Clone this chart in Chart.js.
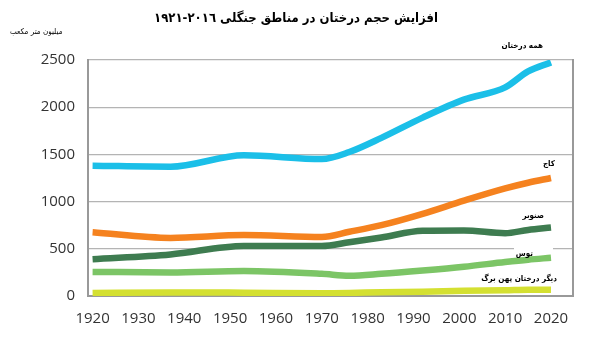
<!DOCTYPE html>
<html>
<head>
<meta charset="utf-8">
<script src="https://cdn.jsdelivr.net/npm/chart.js@4.4.0/dist/chart.umd.min.js"></script>
<style>
  html, body { margin: 0; padding: 0; background: #fff; }
  #wrap { width: 610px; height: 350px; }
</style>
</head>
<body>
<div id="wrap"><canvas id="chart" width="610" height="350"></canvas></div>
<script>
// years of the inventory points
const years = [1920, 1937, 1953, 1970, 1976, 1983, 1992, 2001, 2010, 2015, 2020];
const xTicks = [1920, 1930, 1940, 1950, 1960, 1970, 1980, 1990, 2000, 2010, 2020];
const yTicks = [0, 500, 1000, 1500, 2000, 2500];

// volumes, million m3
const allTrees = [1380, 1370, 1490, 1450, 1525, 1675, 1890, 2080, 2210, 2380, 2475];
const pine = [675, 615, 645, 625, 680, 750, 870, 1010, 1140, 1200, 1250];
const spruce = [390, 440, 530, 530, 570, 620, 690, 695, 665, 700, 725];
const birch = [255, 250, 265, 235, 215, 235, 270, 310, 360, 385, 405];
const otherBroadleaf = [32, 38, 35, 30, 33, 40, 45, 55, 60, 65, 65];

const seriesNames = ["همه درختان", "کاج", "صنوبر", "توس", "دیگر درختان پهن برگ"];
const chartTitle = "افزایش حجم درختان در مناطق جنگلی ٢٠١٦-١٩٢١";
const unitLabel = "میلیون متر مکعب";

const toPoints = (vals) => vals.map((v, i) => ({ x: years[i], y: v }));

const persianFont = "'DejaVu Sans Condensed', 'DejaVu Sans', sans-serif";
const frameColor = "#999999";

// right side of the frame, title and the series names
const labelsPlugin = {
  id: "seriesText",
  afterDraw(chart) {
    const { ctx } = chart;
    const a = chart.chartArea;
    ctx.save();
    ctx.fillStyle = frameColor;
    const top = Math.round(a.top) - 1;
    const h = Math.round(a.bottom) - top + 1;
    ctx.fillRect(Math.round(a.right) - 1, top, 2, h);

    ctx.fillStyle = "#000";
    ctx.textBaseline = "middle";

    ctx.font = "bold 13px " + persianFont;
    ctx.textAlign = "center";
    ctx.fillText(chartTitle, 296, 19);

    ctx.font = "8px " + persianFont;
    ctx.textAlign = "left";
    ctx.fillText(unitLabel, 10, 32);

    ctx.font = "bold 8px " + persianFont;
    ctx.textAlign = "right";
    // white box behind the birch label
    ctx.fillStyle = "#fff";
    ctx.fillRect(514, 247, 39, 6);
    ctx.fillStyle = "#000";
    ctx.fillText(seriesNames[0], 543, 46);
    ctx.fillText(seriesNames[1], 555, 164);
    ctx.fillText(seriesNames[2], 544, 216);
    ctx.fillText(seriesNames[3], 533, 254);
    ctx.fillText(seriesNames[4], 557, 279);
    ctx.restore();
  },
};

const mkSet = (label, vals, color) => ({
  label: label,
  data: toPoints(vals),
  borderColor: color,
  backgroundColor: color,
  borderWidth: 6.5,
  pointRadius: 0,
  tension: 0.3,
  cubicInterpolationMode: "monotone",
  fill: false,
});

new Chart(document.getElementById("chart"), {
  type: "line",
  data: {
    datasets: [
      mkSet(seriesNames[4], otherBroadleaf, "#d4e031"),
      mkSet(seriesNames[3], birch, "#7cc566"),
      mkSet(seriesNames[2], spruce, "#3e7c50"),
      mkSet(seriesNames[1], pine, "#f5821f"),
      mkSet(seriesNames[0], allTrees, "#1bbfe8"),
    ],
  },
  options: {
    responsive: false,
    animation: false,
    layout: { padding: { left: 0, right: 37, top: 60, bottom: 0 } },
    plugins: {
      legend: { display: false },
      tooltip: { enabled: false },
    },
    scales: {
      x: {
        type: "linear",
        min: 1919,
        max: 2024.8,
        afterFit: (s) => { s.height = 54; },
        afterBuildTicks: (s) => { s.ticks = xTicks.map((v) => ({ value: v })); },
        grid: { display: false, drawTicks: false },
        border: { display: true, color: frameColor, width: 2 },
        ticks: {
          padding: 14,
          color: "#333",
          font: { family: "'Open Sans', sans-serif", size: 15 },
          maxRotation: 0,
          autoSkip: false,
          callback: (v) => String(v),
        },
      },
      y: {
        min: 0,
        max: 2500,
        afterFit: (s) => { s.width = 88; },
        afterBuildTicks: (s) => { s.ticks = yTicks.map((v) => ({ value: v })); },
        grid: { color: "#b4b4b4", lineWidth: 1.2, drawTicks: false },
        border: { display: true, color: frameColor, width: 2 },
        ticks: {
          padding: 13,
          color: "#333",
          font: { family: "'Open Sans', sans-serif", size: 15 },
          callback: (v) => String(v),
        },
      },
    },
  },
  plugins: [labelsPlugin],
});
</script>
</body>
</html>
